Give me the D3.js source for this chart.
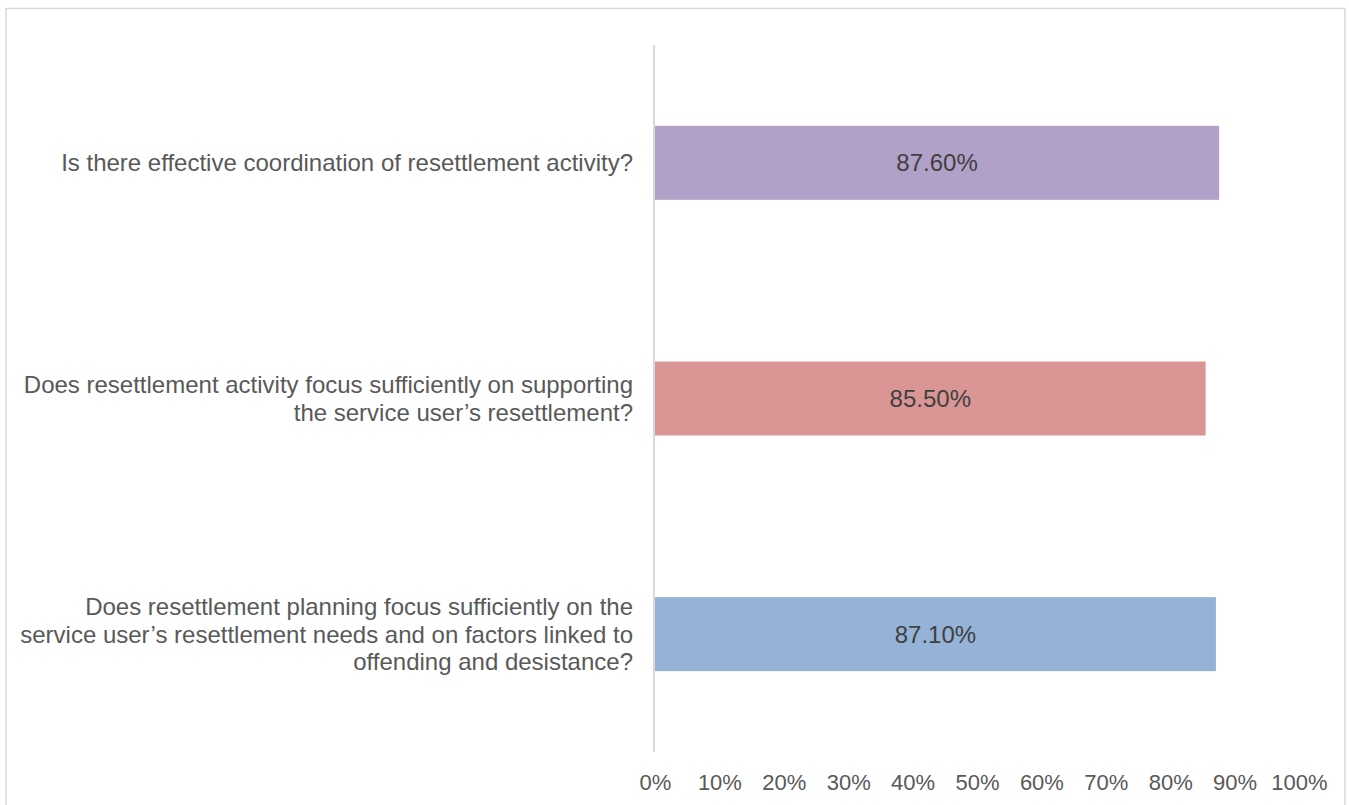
<!DOCTYPE html>
<html>
<head>
<meta charset="utf-8">
<script src="https://cdn.jsdelivr.net/npm/d3@7"></script>
<style>
  html, body { margin: 0; padding: 0; background: #fff; }
  svg { display: block; }
</style>
</head>
<body>
<svg id="chart" width="1349" height="805"></svg>
<script>
// Inspection questions (top to bottom) and the share meeting each one
const categories = [
  ["Is there effective coordination of resettlement activity?"],
  ["Does resettlement activity focus sufficiently on supporting", "the service user\u2019s resettlement?"],
  ["Does resettlement planning focus sufficiently on the", "service user\u2019s resettlement needs and on factors linked to", "offending and desistance?"]
];
const values = [87.6, 85.5, 87.1];
const barColors = ["#B1A0C7", "#DA9694", "#95B3D7"];
const tickValues = [0, 10, 20, 30, 40, 50, 60, 70, 80, 90, 100];

const svg = d3.select("#chart");
const font = "Liberation Sans, Arial, sans-serif";

// chart frame
svg.append("rect")
  .attr("x", 6).attr("y", 8.5)
  .attr("width", 1339).attr("height", 820)
  .attr("fill", "none")
  .attr("stroke", "#D9D9D9")
  .attr("stroke-width", 1.5);

const plot = { left: 655, right: 1299, top: 45, bottom: 752 };

const x = d3.scaleLinear().domain([0, 100]).range([plot.left, plot.right]);
const y = d3.scaleBand()
  .domain(d3.range(categories.length))
  .range([plot.top, plot.bottom])
  .paddingInner(0.686)
  .paddingOuter(0.343);

// bars
svg.append("g").selectAll("rect")
  .data(values)
  .join("rect")
  .attr("x", x(0))
  .attr("y", (d, i) => y(i))
  .attr("width", d => x(d) - x(0))
  .attr("height", y.bandwidth())
  .attr("fill", (d, i) => barColors[i]);

// vertical category axis line
svg.append("line")
  .attr("x1", x(0) - 1).attr("x2", x(0) - 1)
  .attr("y1", plot.top).attr("y2", plot.bottom)
  .attr("stroke", "#D9D9D9")
  .attr("stroke-width", 2);

// value labels centred in each bar
svg.append("g").selectAll("text")
  .data(values)
  .join("text")
  .attr("x", d => (x(0) + x(d)) / 2)
  .attr("y", (d, i) => y(i) + y.bandwidth() / 2)
  .attr("dy", "0.35em")
  .attr("text-anchor", "middle")
  .attr("font-family", font)
  .attr("font-size", 24)
  .attr("fill", "#404040")
  .text(d => d.toFixed(2) + "%");

// category labels, right-aligned against the axis
const lineH = 27.5;
const catG = svg.append("g");
categories.forEach((lines, i) => {
  const cy = y(i) + y.bandwidth() / 2;
  const t = catG.append("text")
    .attr("text-anchor", "end")
    .attr("font-family", font)
    .attr("font-size", 24)
    .attr("fill", "#595959");
  lines.forEach((ln, j) => {
    t.append("tspan")
      .attr("x", 633)
      .attr("y", cy + (j - (lines.length - 1) / 2) * lineH)
      .attr("dy", "0.35em")
      .text(ln);
  });
});

// value axis (labels only)
const xAxis = d3.axisBottom(x)
  .tickValues(tickValues)
  .tickFormat(d => d + "%")
  .tickSize(0)
  .tickPadding(0);

const ax = svg.append("g")
  .attr("transform", "translate(0, 774)")
  .call(xAxis);
ax.select(".domain").remove();
ax.selectAll("text")
  .attr("font-family", font)
  .attr("font-size", 22)
  .attr("fill", "#595959");
</script>
</body>
</html>
